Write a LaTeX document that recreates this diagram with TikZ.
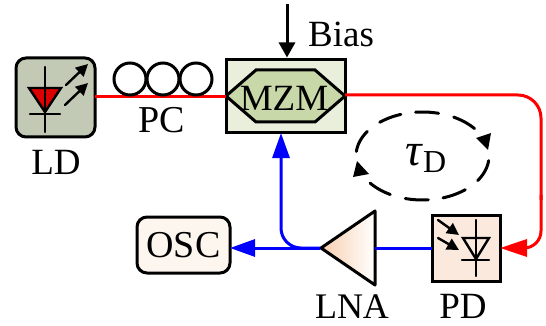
\documentclass[tikz,border=0pt]{standalone}
\usepackage{fontspec}
\setmainfont{Liberation Serif}
\usetikzlibrary{arrows.meta,shapes.geometric}
\definecolor{ldfill}{HTML}{C2C9B4}
\definecolor{mzmfill}{HTML}{EAEFDC}
\definecolor{hexfill}{HTML}{C8D8A8}
\definecolor{pdfill}{HTML}{FAE9DC}
\definecolor{oscfill}{HTML}{FDF6EF}
\definecolor{lnafill}{HTML}{F9CFB0}
\definecolor{ldred}{HTML}{DD0000}
\definecolor{bl}{HTML}{0000FF}
\definecolor{rd}{HTML}{FF0000}
\newcommand{\lbl}[1]{\fontsize{#1}{#1}\selectfont}
\tikzset{
  box/.style={draw=black,line width=3pt,inner sep=0pt,outer sep=0pt,minimum width=#1},
  txt/.style={inner sep=0pt,anchor=base},
  sym/.style={line width=2.4pt,line cap=round,black},
  wirered/.style={rd,line width=3pt},
  wireblue/.style={bl,line width=3pt},
  bigtip/.style={-{Triangle[length=25pt,width=17pt]}},
  smalltip/.style={-{Triangle[length=12pt,width=12pt]}},
  coil/.style={draw=black,line width=3pt,circle,minimum size=32pt,inner sep=0pt}
}
\begin{document}
\begin{tikzpicture}[x=1pt,y=-1pt]
\useasboundingbox (0,0) rectangle (546,326);
% LD
\node[box=79pt,rounded corners=10pt,fill=ldfill,minimum height=79pt] (LD) at (55.5,97.5) {};
\draw[sym,fill=ldred] (29,88)--(61,88)--(45,112)--cycle;
\draw[sym] (45,67)--(45,132) (30,114)--(60,114);
\coordinate (a1s) at (66,85); \coordinate (a1e) at (88,64);
\coordinate (a2s) at (65,105); \coordinate (a2e) at (88,83);
\draw[sym,smalltip] (a1s)--(a1e);
\draw[sym,smalltip] (a2s)--(a2e);
\node[txt,font=\lbl{37}] (LDt) at (56,174) {LD};
% MZM
\node[box=119pt,fill=mzmfill,minimum height=73.5pt] (MZM) at (285.5,96) {};
\draw[line width=3pt,fill=hexfill,line join=miter] (226,96)--(256,70)--(315,70)--(345,96)--(315,122)--(256,122)--cycle;
\node[txt,font=\lbl{37}] (MZMt) at (284,111) {MZM};
% PC
\coordinate (LDout) at (95,97);
\draw[wirered] (LDout) -- (MZM.west |- LDout);
\node[coil] (c1) at (130,79) {};
\node[coil] (c2) at (163,79) {};
\node[coil] (c3) at (196,79) {};
\node[txt,font=\lbl{38}] (PCt) at (162,132) {PC};
% Bias
\coordinate (biasS) at (287,4);
\draw[black,line width=3pt,-{Triangle[length=15pt,width=16pt]}] (biasS) -- (287,57.5);
\node[txt,anchor=base west,font=\lbl{37}] (Bias) at (308,47) {Bias};
% PD
\node[box=68pt,fill=pdfill,minimum height=66pt] (PD) at (466,248) {};
\draw[sym] (476,220)--(476,276) (462,260)--(489,260);
\draw[sym] (463,238)--(489,238)--(476,259)--cycle;
\draw[sym,smalltip] (438,220)--(459,235);
\draw[sym,smalltip] (438,238)--(459,250);
\node[txt,font=\lbl{37}] (PDt) at (463,318) {PD};
% LNA
\node[inner sep=0pt] (LNAtip) at (321,248) {};
\path[left color=lnafill,right color=white,draw=black,line width=3pt,line join=round] (321,248)--(375,211)--(375,285)--cycle;
\coordinate (LNAr) at (375,248);
\node[txt,font=\lbl{36}] (LNAt) at (352,318) {LNA};
% OSC
\node[box=93pt,rounded corners=10pt,fill=oscfill,minimum height=56pt,font=\lbl{38}] (OSC) at (183.5,245) {OSC};
% wires
\draw[wirered,rounded corners=23pt] (345,95) -- (541,95) -- (541,200);
\draw[wirered,rounded corners=17pt] (541,195) -- (541,248) -- (520,248);
\draw[wirered,-{Triangle[length=27pt,width=17pt]}] (525,248) -- (PD.east |- 0,248);
\draw[wireblue] (PD.west |- 0,248) -- (LNAr);
\draw[wireblue,bigtip] (LNAtip) -- (OSC.east |- LNAtip);
\draw[wireblue,bigtip,rounded corners=20pt] (LNAtip) -- (281,248) -- (281,133);
% tau
\node[txt,anchor=base west,font=\lbl{46}\itshape] (tau) at (405,165) {τ};
\node[txt,anchor=base west,font=\lbl{32}] (tauD) at (423,172) {D};
\foreach \a/\b in {130/109,96/76,62/38.5,-6/-34,-50/-72,-85/-105,-119/-142,174/146}
  \draw[black,line width=3pt,line cap=round] plot[domain=\a:\b,samples=10] ({422.5+66.5*cos(\x)},{156-44*sin(\x)});
\fill[black] (476,138)--(491,133)--(488,150)--cycle;
\fill[black] (353,177)--(357,161)--(369,174)--cycle;
\end{tikzpicture}
\end{document}
